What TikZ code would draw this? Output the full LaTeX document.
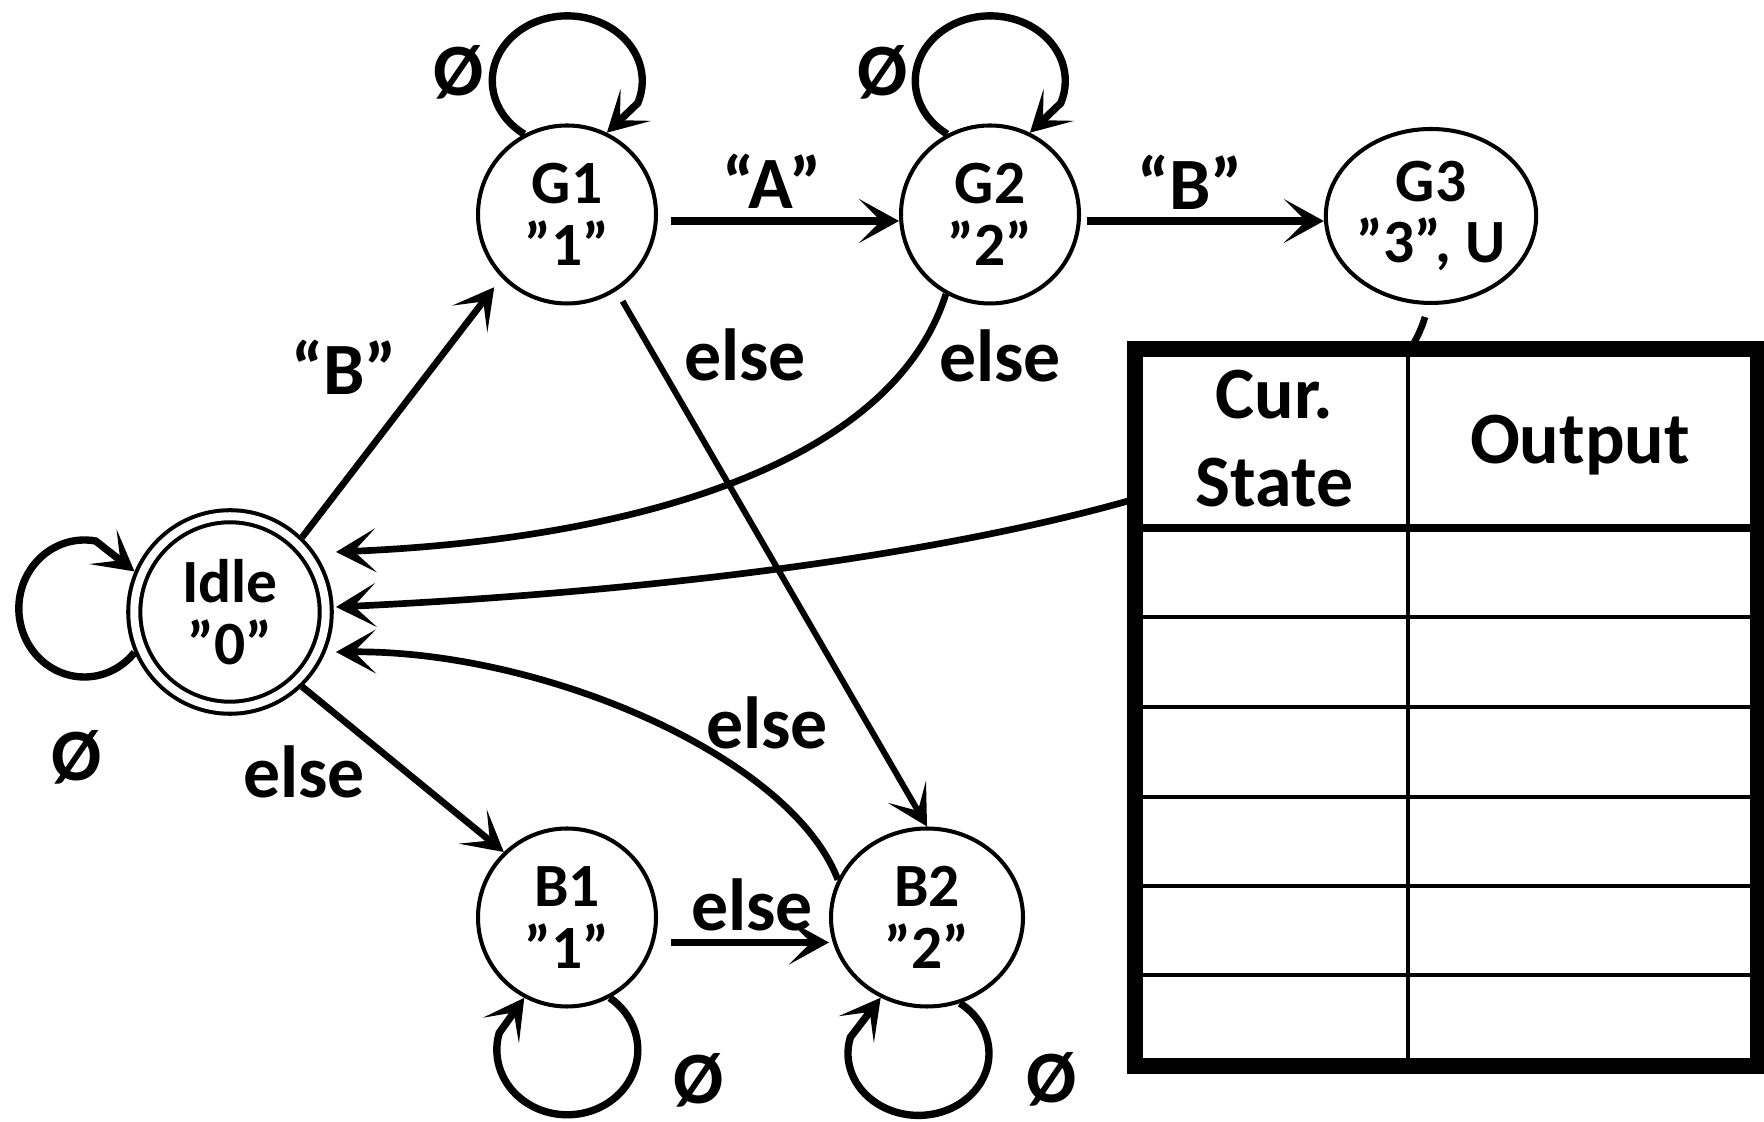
\documentclass[tikz,border=0pt]{standalone}
\usepackage{fontspec}
\setmainfont{Carlito}
\usepackage{tikz}
\usetikzlibrary{arrows.meta, calc, shapes.geometric}

\tikzset{
  statenode/.style={circle, draw, line width=2.3pt, minimum size=3.56cm, inner sep=0pt, align=center, font=\fontsize{35}{35}\selectfont\bfseries},
  trans/.style={line width=3.8pt, -{Stealth[length=0.8cm, width=0.88cm, inset=0.44cm]}},
  selfloop/.style={trans, line width=4.2pt},
  lbl/.style={font=\fontsize{42}{50}\selectfont\bfseries, inner sep=0pt},
}

\begin{document}
\begin{tikzpicture}
    \useasboundingbox (0,0) rectangle (35.28,22.44);
    \node[statenode, double, double distance=0.16cm, minimum size=3.83cm, outer sep=0.16cm] (Idle) at (4.60,10.20) {Idle\\”0”};
    \node[statenode] (G1) at (11.34,18.15) {G1\\”1”};
    \node[statenode] (G2) at (19.80,18.15) {G2\\”2”};
    \node[statenode, ellipse, minimum width=3.78cm, minimum height=3.48cm] (G3) at (28.62,18.12) {G3\\”3”, U};
    \node[statenode] (B1) at (11.34,4.09) {B1\\”1”};
    \node[statenode, ellipse, minimum width=3.84cm, minimum height=3.56cm] (B2) at (18.54,4.09) {B2\\”2”};

    \draw[trans, shorten >=0.24cm] (Idle.46) -- (G1.224);
    \draw[trans, line width=4.4pt] ([shift={(0.26,-0.13)}]G1.east) -- ([yshift=-0.13cm]G2.west);
    \draw[trans, line width=4.4pt] ([shift={(0.12,-0.13)}]G2.east) -- ([yshift=-0.10cm]G3.west);
    \draw[trans, line width=3.4pt, shorten <=0.24cm] (G1.-57) -- (B2.north);
    \draw[trans] (G2.241) .. controls (17.80,13.04) and (12.40,11.64) .. ([shift={(2.12,1.20)}]Idle.center);
    \draw[trans] ([shift={(-0.12,-0.24)}]G3.south) .. controls (27.40,12.34) and (16.00,10.74) .. ([shift={(2.12,0.10)}]Idle.center);
    \draw[trans] (B2.157) .. controls (15.80,7.34) and (10.80,9.44) .. ([shift={(2.12,-0.80)}]Idle.center);
    \draw[trans] (Idle.-46) -- (B1.134);
    \draw[trans, line width=4.4pt] ([shift={(0.26,-0.5)}]B1.east) -- ([yshift=-0.5cm]B2.west);

    % self loops
    \draw[selfloop] (G1.118) arc[start angle=235, end angle=-20, x radius=1.5cm, y radius=1.3cm] -- (G1.64);
    \draw[selfloop] (G2.118) arc[start angle=235, end angle=-20, x radius=1.5cm, y radius=1.3cm] -- (G2.64);
    \draw[selfloop] (Idle.203) arc[start angle=-40, end angle=-280, x radius=1.31cm, y radius=1.37cm] -- (Idle.157);
    \draw[selfloop] (B1.-62) arc[start angle=53, end angle=-195, x radius=1.41cm, y radius=1.30cm] -- (B1.242);
    \draw[selfloop] (B2.-69) arc[start angle=54, end angle=-195, x radius=1.41cm, y radius=1.24cm] -- (B2.240);

    \node[lbl] (lblG1) at (6.88,15.10) {“B”};
    \node[lbl] (lblG2) at (15.44,18.82) {“A”};
    \node[lbl] (lblG3) at (23.80,18.80) {“B”};
    \node[lbl] (lblG1B2) at (14.90,15.34) {else};
    \node[lbl] (lblG2Idle) at (20.00,15.32) {else};
    \node[lbl] (lblIdleB1) at (6.08,7.00) {else};
    \node[lbl] (lblB2Idle) at (15.34,7.98) {else};
    \node[lbl] (lblB1B2) at (15.04,4.34) {else};
    \node[lbl] (nullG1) at (9.18,21.00) {Ø};
    \node[lbl] (nullG2) at (17.66,21.00) {Ø};
    \node[lbl] (nullIdle) at (1.54,7.30) {Ø};
    \node[lbl] (nullB1) at (13.98,0.84) {Ø};
    \node[lbl] (nullB2) at (21.04,0.86) {Ø};

    % output table
    \fill[white] (22.70,1.12) rectangle (35.16,15.45);
    \draw[line width=0.08cm] (28.16,15.45) -- (28.16,1.12);
    \draw[line width=0.16cm] (22.70,11.88) -- (35.16,11.88);
    \foreach \y in {10.10,8.30,6.50,4.72,2.94}
        \draw[line width=0.08cm] (22.70,\y) -- (35.16,\y);
    \draw[line width=0.32cm] (22.70,1.12) rectangle (35.16,15.45);
    \node[lbl, align=center] (hdrcur) at (25.49,13.66) {Cur.\\State};
    \node[lbl, anchor=base] (hdrout) at (31.60,13.16) {Output};
\end{tikzpicture}
\end{document}
